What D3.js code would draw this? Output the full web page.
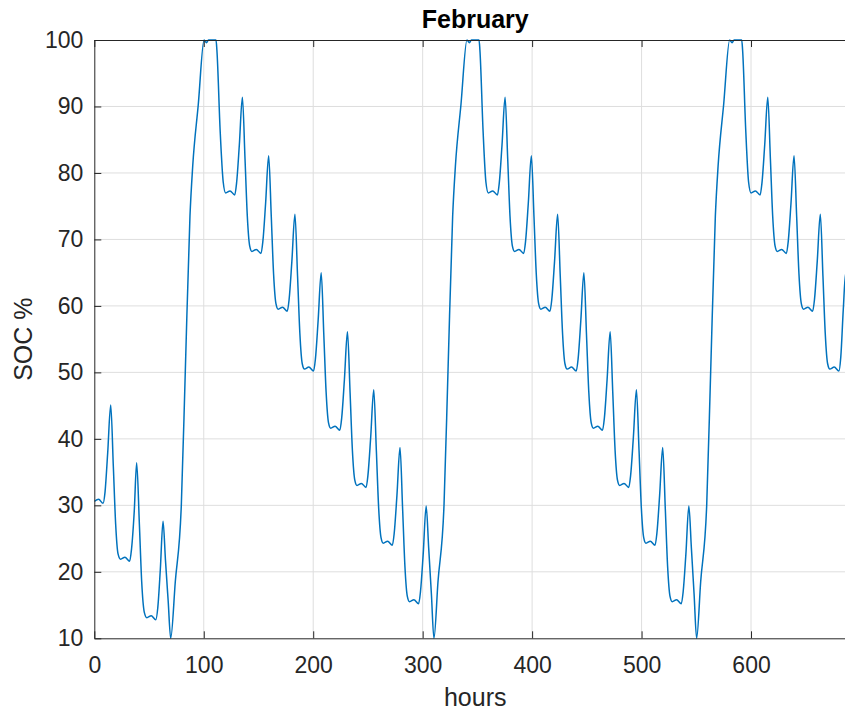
<!DOCTYPE html>
<html>
<head>
<meta charset="utf-8">
<script src="https://cdnjs.cloudflare.com/ajax/libs/d3/7.8.5/d3.min.js"></script>
<style>
  body { margin: 0; background: #fff; }
  svg { display: block; font-family: "Liberation Sans", Arial, sans-serif; }
  .tick text { fill: #262626; font-size: 23px; }
  .tick line { stroke: #262626; }
</style>
</head>
<body>
<svg id="chart" width="845" height="713"></svg>
<script>
// SOC (%), one row per day
const hours = [
  0, 4, 8, 9.8, 12.2, 15, 17.4, 19.5, 21.7,
  24, 28, 32.3, 34, 36.5, 38.7, 41.2, 43.3, 45.7,
  48, 52, 56.2, 58, 60.3, 62.8, 65, 67.5, 69.8,
  74, 79.5, 83.2, 87.4, 89.9, 95, 100.3, 102.5, 104.3, 111.2, 112, 115, 117.8,
  120, 124, 128.3, 130, 132.5, 135.3, 137.7, 139.8, 142,
  144, 148, 152.3, 154, 156.5, 159.3, 161.7, 163.8, 166,
  168, 172, 176.3, 178, 180.5, 183.3, 185.7, 187.8, 190,
  192, 196, 200.3, 202, 204.5, 207.3, 209.7, 211.8, 214,
  216, 220, 224.3, 226, 228.5, 231.3, 233.7, 235.8, 238,
  240, 244, 248.3, 250, 252.5, 255.3, 257.7, 259.8, 262,
  264, 268, 272.3, 274, 276.5, 279.3, 281.7, 283.8, 286,
  288, 292, 296.3, 298, 300.5, 303.2, 305.5, 308, 310.3,
  314, 319.5, 323.2, 327.4, 329.9, 335, 340.5, 342.7, 344.5, 351.5, 352.3, 355.2, 357.8,
  360, 364, 368.3, 370, 372.5, 375.3, 377.7, 379.8, 382,
  384, 388, 392.3, 394, 396.5, 399.3, 401.7, 403.8, 406,
  408, 412, 416.3, 418, 420.5, 423.3, 425.7, 427.8, 430,
  432, 436, 440.3, 442, 444.5, 447.3, 449.7, 451.8, 454,
  456, 460, 464.3, 466, 468.5, 471.3, 473.7, 475.8, 478,
  480, 484, 488.3, 490, 492.5, 495.3, 497.7, 499.8, 502,
  504, 508, 512.3, 514, 516.5, 519.3, 521.7, 523.8, 526,
  528, 532, 536.3, 538, 540.5, 543.2, 545.5, 548, 550.3,
  554, 559.5, 563.2, 567.4, 569.9, 575, 580.5, 582.7, 584.5, 591.5, 592.3, 595.2, 597.8,
  600, 604, 608.3, 610, 612.5, 615.3, 617.7, 619.8, 622,
  624, 628, 632.3, 634, 636.5, 639.3, 641.7, 643.8, 646,
  648, 652, 656.3, 658, 660.5, 663.3, 665.7, 667.8, 670,
  672, 676, 680.3, 682, 684.3, 686.5, 689
];
const soc = [
  30.6, 30.9, 30.3, 32.0, 37.8, 45.1, 35.8, 27.2, 22.7,
  21.9, 22.2, 21.6, 23.4, 29.1, 36.4, 27.1, 18.5, 13.9,
  13.1, 13.4, 12.8, 14.6, 20.3, 27.6, 21.8, 15.6, 10,
  18.5, 30, 50.5, 73.5, 81, 90.3, 100, 99.6, 100, 100, 98.5, 86.3, 78.6,
  77, 77.3, 76.7, 78.5, 84.2, 91.4, 82.1, 73.5, 69.0,
  68.2, 68.5, 67.9, 69.7, 75.4, 82.6, 73.4, 64.8, 60.3,
  59.5, 59.8, 59.2, 61.0, 66.7, 73.8, 64.5, 55.9, 51.3,
  50.5, 50.8, 50.2, 52.0, 57.8, 65.0, 55.6, 47.0, 42.4,
  41.6, 41.9, 41.3, 43.1, 48.9, 56.1, 46.9, 38.3, 33.8,
  33.0, 33.3, 32.7, 34.5, 40.2, 47.4, 38.2, 29.6, 25.1,
  24.3, 24.6, 24.0, 25.8, 31.5, 38.7, 29.4, 20.8, 16.3,
  15.5, 15.8, 15.2, 17.0, 22.7, 29.9, 23.6, 16.6, 10,
  18.5, 30, 50.5, 73.5, 81, 90.3, 100, 99.6, 100, 100, 98.5, 86.3, 78.6,
  77, 77.3, 76.7, 78.5, 84.2, 91.4, 82.1, 73.5, 69.0,
  68.2, 68.5, 67.9, 69.7, 75.4, 82.6, 73.4, 64.8, 60.3,
  59.5, 59.8, 59.2, 61.0, 66.7, 73.8, 64.5, 55.9, 51.3,
  50.5, 50.8, 50.2, 52.0, 57.8, 65.0, 55.6, 47.0, 42.4,
  41.6, 41.9, 41.3, 43.1, 48.9, 56.1, 46.9, 38.3, 33.8,
  33.0, 33.3, 32.7, 34.5, 40.2, 47.4, 38.2, 29.6, 25.1,
  24.3, 24.6, 24.0, 25.8, 31.5, 38.7, 29.4, 20.8, 16.3,
  15.5, 15.8, 15.2, 17.0, 22.7, 29.9, 23.6, 16.6, 10,
  18.5, 30, 50.5, 73.5, 81, 90.3, 100, 99.6, 100, 100, 98.5, 86.3, 78.6,
  77, 77.3, 76.7, 78.5, 84.2, 91.4, 82.1, 73.5, 69.0,
  68.2, 68.5, 67.9, 69.7, 75.4, 82.6, 73.4, 64.8, 60.3,
  59.5, 59.8, 59.2, 61.0, 66.7, 73.8, 64.5, 55.9, 51.3,
  50.5, 50.8, 50.2, 52.3, 59.5, 65.0, 56.0
];
const xTicks = [0, 100, 200, 300, 400, 500, 600];
const yTicks = [10, 20, 30, 40, 50, 60, 70, 80, 90, 100];

const margin = {top: 40, left: 94.3};
const plotH = 598.3;
const plotW = 761.8; // axis runs past the right edge of the picture

const svg = d3.select("#chart");

const x = d3.scaleLinear().domain([0, 696]).range([margin.left, margin.left + plotW]);
const y = d3.scaleLinear().domain([10, 100]).range([margin.top + plotH, margin.top]);

// grid
svg.append("g").selectAll("line").data(xTicks.slice(1)).enter().append("line")
  .attr("x1", d => x(d)).attr("x2", d => x(d))
  .attr("y1", y(10)).attr("y2", y(100))
  .attr("stroke", "#dedede").attr("stroke-width", 1);
svg.append("g").selectAll("line").data(yTicks.slice(1, -1)).enter().append("line")
  .attr("x1", x(0)).attr("x2", x(696))
  .attr("y1", d => y(d)).attr("y2", d => y(d))
  .attr("stroke", "#dedede").attr("stroke-width", 1);

// the line
svg.append("clipPath").attr("id", "clip").append("rect")
  .attr("x", x(0)).attr("y", y(100) - 2).attr("width", plotW).attr("height", plotH + 4);

const pts = hours.map((h, i) => [h, soc[i]]);
const line = d3.line().x(d => x(d[0])).y(d => y(d[1])).curve(d3.curveMonotoneX);
svg.append("path").datum(pts)
  .attr("clip-path", "url(#clip)")
  .attr("fill", "none")
  .attr("stroke", "#0072bd")
  .attr("stroke-width", 1.5)
  .attr("stroke-linejoin", "round")
  .attr("d", line);

// axes (matlab style ticks point inwards)
const xAxis = d3.axisBottom(x).tickValues(xTicks).tickSizeInner(-7).tickSizeOuter(0).tickPadding(18.5);
svg.append("g").attr("transform", "translate(0," + y(10) + ")").call(xAxis)
  .call(g => g.select(".domain").attr("stroke", "#262626"));

const xTop = d3.axisTop(x).tickValues(xTicks).tickSizeInner(-7).tickSizeOuter(0).tickFormat("");
svg.append("g").attr("transform", "translate(0," + y(100) + ")").call(xTop)
  .call(g => g.select(".domain").attr("stroke", "#262626"));

const yAxis = d3.axisLeft(y).tickValues(yTicks).tickSizeInner(-7).tickSizeOuter(0).tickPadding(11);
svg.append("g").attr("transform", "translate(" + x(0) + ",0)").call(yAxis)
  .call(g => g.select(".domain").attr("stroke", "#262626"));

svg.selectAll(".tick text").attr("font-family", null).attr("font-size", null);

// labels
svg.append("text")
  .attr("x", (x(0) + x(696)) / 2).attr("y", 28)
  .attr("text-anchor", "middle")
  .attr("font-size", 25).attr("font-weight", "bold").attr("fill", "#000")
  .text("February");

svg.append("text")
  .attr("x", (x(0) + x(696)) / 2).attr("y", 706)
  .attr("text-anchor", "middle")
  .attr("font-size", 25).attr("fill", "#262626")
  .text("hours");

svg.append("text")
  .attr("transform", "translate(32," + (margin.top + plotH / 2) + ") rotate(-90)")
  .attr("text-anchor", "middle")
  .attr("font-size", 25).attr("fill", "#262626")
  .text("SOC %");
</script>
</body>
</html>
